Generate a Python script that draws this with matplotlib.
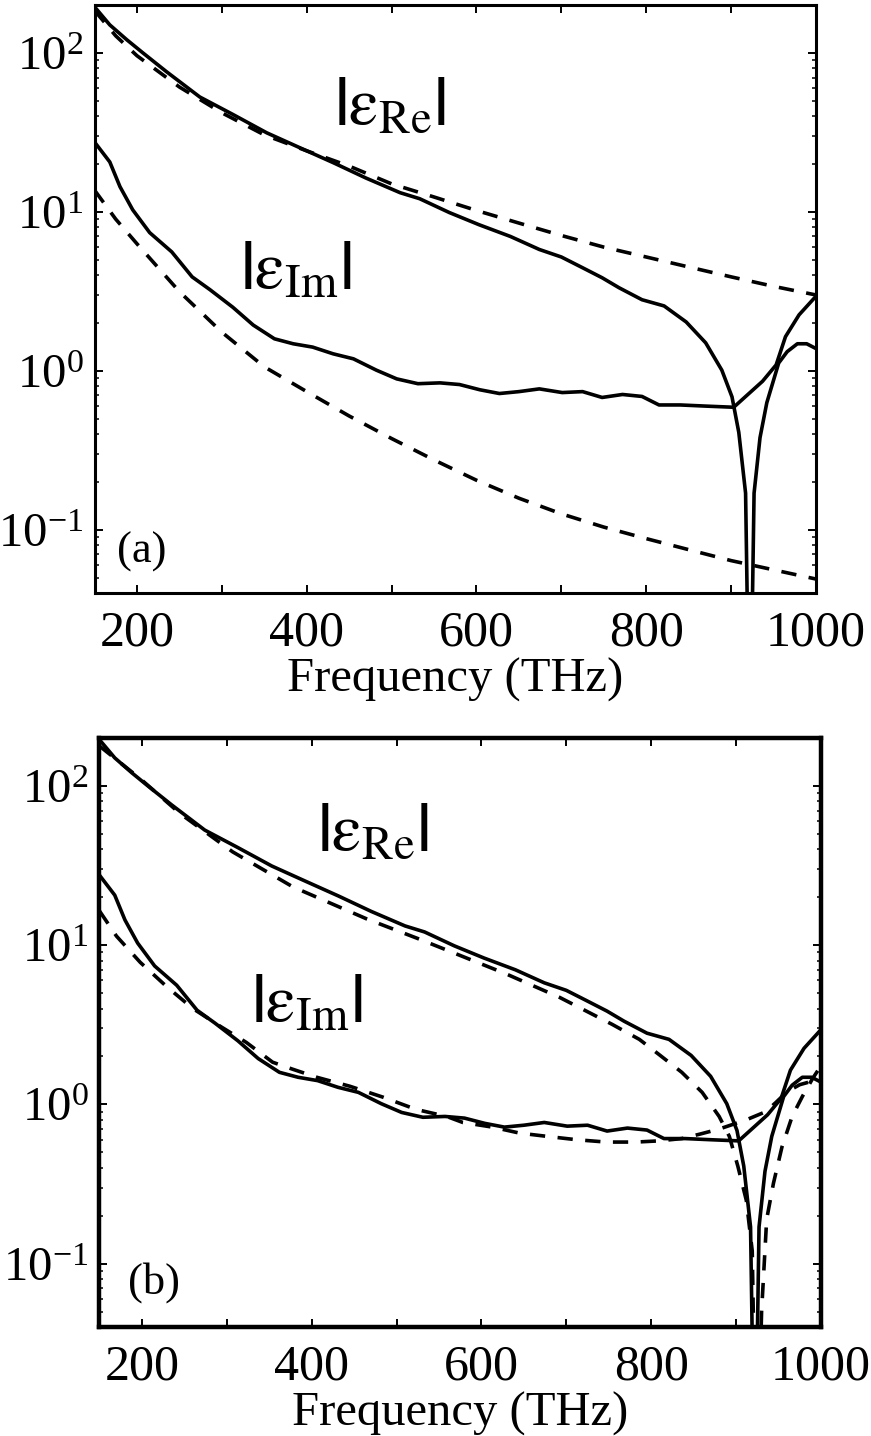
import matplotlib
matplotlib.use("Agg")
import matplotlib.pyplot as plt
from matplotlib.ticker import LogLocator, NullFormatter

plt.rcParams['font.family'] = ['Liberation Serif', 'DejaVu Serif']
plt.rcParams['mathtext.fontset'] = 'stix'
plt.rcParams['lines.scale_dashes'] = False
plt.rcParams['axes.unicode_minus'] = False

# ---------------- data (frequency in THz) ----------------
# measured |eps_Re| (solid, both panels)
f_re_exp = [150, 168, 188, 207, 235, 274, 313, 353, 392, 432, 470, 510, 533, 568,
            603, 640, 674, 700, 725, 748, 768, 795, 821, 847, 870, 889, 901, 909,
            917, 922, 927, 934, 942, 956, 966, 978, 989, 1000]
re_exp = [195, 150, 121, 100, 76, 52.8, 41, 31.4, 25.3, 20.3, 16.3, 13.2, 12.1, 9.9,
          8.3, 7.0, 5.8, 5.2, 4.45, 3.85, 3.33, 2.80, 2.56, 2.03, 1.50, 1.01, 0.686, 0.41,
          0.17, 0.003, 0.17, 0.38, 0.63, 1.12, 1.32, 1.48, 1.48, 1.38]

# measured |eps_Im| (solid, both panels)
f_im_exp = [150, 168, 180, 195, 215, 241, 265, 286, 313, 337, 362, 384, 407, 431,
            455, 482, 506, 531, 557, 580, 604, 627, 650, 674, 701, 725, 748, 772,
            795, 815, 840, 870, 903, 937, 953, 964, 980, 998]
im_exp = [27.5, 20.6, 14.4, 10.3, 7.4, 5.6, 3.9, 3.24, 2.51, 1.94, 1.59, 1.48, 1.41, 1.28,
          1.19, 1.01, 0.89, 0.83, 0.84, 0.82, 0.76, 0.72, 0.74, 0.77, 0.73, 0.74, 0.68, 0.71,
          0.69, 0.61, 0.61, 0.60, 0.59, 0.86, 1.09, 1.64, 2.25, 2.87]

# model (a): dashed
f_mod_a = [150, 175, 200, 250, 300, 350, 400, 450, 500, 550, 600, 650, 700, 750,
           800, 850, 900, 950, 1000]
re_mod_a = [185, 128, 96, 61, 42, 30.5, 24.2, 19.4, 15.0, 12.4, 10.2, 8.5, 7.1, 6.0,
            5.2, 4.5, 3.9, 3.4, 3.0]
im_mod_a = [13.7, 9.0, 6.3, 3.15, 1.75, 1.06, 0.74, 0.52, 0.375, 0.275, 0.205, 0.158, 0.126,
            0.104, 0.088, 0.075, 0.064, 0.056, 0.049]

# model (b): dashed
f_re_mod_b = [150, 198, 245, 307, 378, 465, 527, 566, 629, 692, 754, 786, 809, 836,
              860, 880, 892, 902, 912, 919, 924, 930, 936, 944, 954, 966, 978, 990, 1000]
re_mod_b = [178, 111, 67, 38.5, 23.2, 14.6, 10.9, 9.0, 6.6, 4.7, 3.18, 2.56, 2.06, 1.59,
            1.19, 0.84, 0.63, 0.41, 0.25, 0.12, 0.003, 0.05, 0.19, 0.32, 0.54, 0.84, 1.12,
            1.45, 1.75]
f_im_mod_b = [150, 170, 198, 229, 260, 292, 323, 354, 378, 406, 445, 484, 523, 559,
              578, 613, 645, 677, 712, 747, 782, 809, 836, 857, 880, 912, 935, 947, 960,
              975, 990, 1000]
im_mod_b = [16.4, 11.4, 7.8, 5.5, 4.0, 3.1, 2.45, 1.84, 1.66, 1.48, 1.30, 1.11, 0.93, 0.84,
            0.77, 0.72, 0.66, 0.63, 0.60, 0.58, 0.58, 0.59, 0.61, 0.65, 0.70, 0.80, 0.90,
            1.03, 1.20, 1.33, 1.40, 1.40]

x_major = [200, 400, 600, 800, 1000]
x_minor = [300, 500, 700, 900]
y_major = [0.1, 1, 10, 100]
label_re = r'$\mathbf{|}\mathrm{ε}_{\mathrm{Re}}\mathbf{|}$'
label_im = r'$\mathbf{|}\mathrm{ε}_{\mathrm{Im}}\mathbf{|}$'
xlabel = 'Frequency (THz)'

# ---------------- figure ----------------
fig = plt.figure(figsize=(8.71, 14.36), dpi=100)
ax1 = fig.add_axes([0.1085, 0.5870, 0.8284, 0.4095])
ax2 = fig.add_axes([0.1142, 0.0759, 0.8284, 0.4102])

LW = 2.6
DASH = (11.0, 9.0)
LABEL_FS = 48


def style(ax, spine_w, tag, tagpos):
    ax.set_yscale('log')
    ax.set_xlim(150, 1000)
    ax.set_ylim(0.04, 200)
    ax.set_xticks(x_major)
    ax.set_xticks(x_minor, minor=True)
    ax.set_yticks(y_major)
    ax.yaxis.set_minor_locator(LogLocator(base=10, subs=range(2, 10)))
    ax.yaxis.set_minor_formatter(NullFormatter())
    ax.tick_params(which='both', direction='in', top=True, right=True, colors='black')
    ax.tick_params(axis='x', which='major', pad=12, labelsize=36)
    ax.tick_params(axis='y', which='major', pad=8, labelsize=35)
    ax.tick_params(which='major', length=6, width=1.4)
    ax.tick_params(axis='x', which='minor', length=6, width=1.4)
    ax.tick_params(axis='y', which='minor', length=3, width=1.1)
    for s in ax.spines.values():
        s.set_linewidth(spine_w)
    ax.set_xlabel(xlabel, fontsize=35, labelpad=1)
    ax.text(tagpos[0], tagpos[1], tag, transform=ax.transAxes, fontsize=32,
            ha='center', va='center')


# panel (a)
ax1.plot(f_re_exp, re_exp, color='black', lw=LW, solid_joinstyle='round')
ax1.plot(f_im_exp, im_exp, color='black', lw=LW, solid_joinstyle='round')
ax1.plot(f_mod_a, re_mod_a, color='black', lw=LW, linestyle='--', dashes=DASH)
ax1.plot(f_mod_a, im_mod_a, color='black', lw=LW, linestyle='--', dashes=DASH)
style(ax1, 2.2, '(a)', (0.066, 0.071))
ax1.text(0.41, 0.825, label_re, transform=ax1.transAxes, fontsize=LABEL_FS,
         ha='center', va='center')
ax1.text(0.279, 0.546, label_im, transform=ax1.transAxes, fontsize=LABEL_FS,
         ha='center', va='center')

# panel (b)
ax2.plot(f_re_exp, re_exp, color='black', lw=LW, solid_joinstyle='round')
ax2.plot(f_im_exp, im_exp, color='black', lw=LW, solid_joinstyle='round')
ax2.plot(f_re_mod_b, re_mod_b, color='black', lw=LW, linestyle='--', dashes=DASH)
ax2.plot(f_im_mod_b, im_mod_b, color='black', lw=LW, linestyle='--', dashes=DASH)
style(ax2, 3.2, '(b)', (0.0755, 0.075))
ax2.text(0.379, 0.837, label_re, transform=ax2.transAxes, fontsize=LABEL_FS,
         ha='center', va='center')
ax2.text(0.2876, 0.547, label_im, transform=ax2.transAxes, fontsize=LABEL_FS,
         ha='center', va='center')

fig.savefig('out.png', dpi=100)
